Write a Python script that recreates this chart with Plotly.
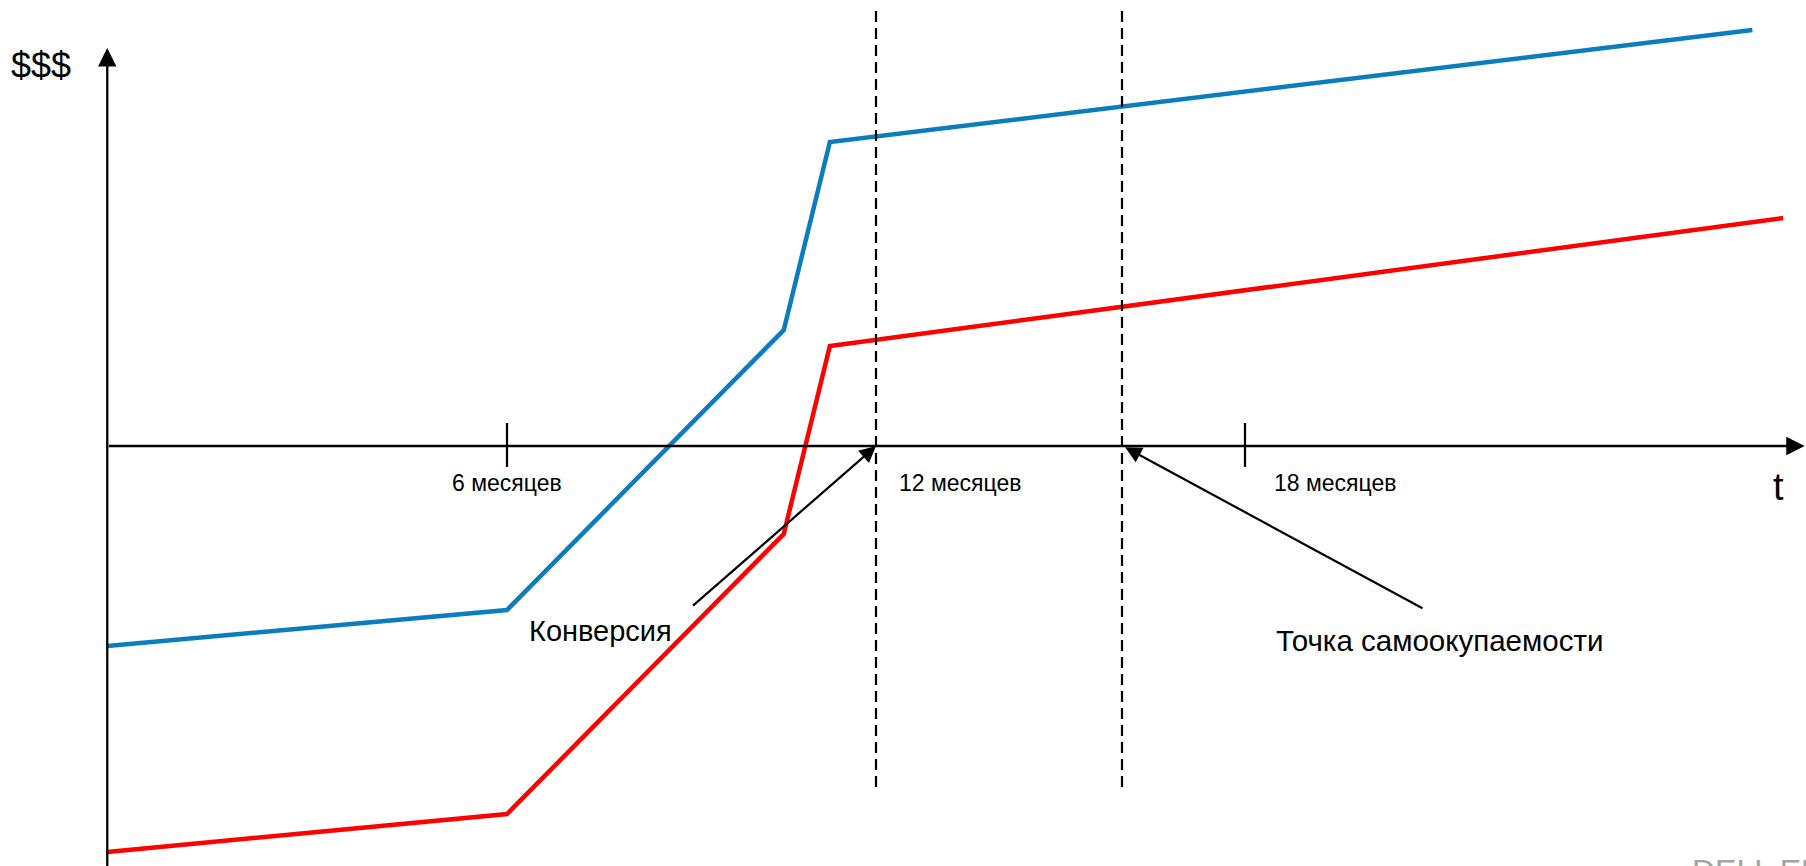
import plotly.graph_objects as go

# ---- data (x in months, y in arbitrary $ units) ----
blue_months = [-0.5, 6, 10.5, 11.25, 26.25]
blue_values = [-50, -41, 29, 76, 104]
red_months = [-0.5, 6, 10.5, 11.25, 26.75]
red_values = [-101.5, -92, -22, 25, 57]

tick_months = [6, 18]
tick_labels = ["6 месяцев", "12 месяцев", "18 месяцев"]
label_months = [6, 12, 18]
conversion_month = 12
payback_month = 16

FONT = "Liberation Sans, Arial, sans-serif"
BLUE = "#0b7dbd"
RED = "#ff0000"

X0, X1 = -2.244, 27.122
Y0, Y1 = -105, 111.5

fig = go.Figure()
fig.add_trace(go.Scatter(x=blue_months, y=blue_values, mode="lines",
                         line=dict(color=BLUE, width=4.5), hoverinfo="skip"))
fig.add_trace(go.Scatter(x=red_months, y=red_values, mode="lines",
                         line=dict(color=RED, width=4.5), hoverinfo="skip"))

shapes = []
# tick marks
for m in tick_months:
    shapes.append(dict(type="line", x0=m, x1=m, y0=-5.25, y1=5.75,
                       line=dict(color="black", width=2.2)))
# dashed verticals
for m in [conversion_month, payback_month]:
    shapes.append(dict(type="line", x0=m, x1=m, y0=-85.25, y1=109,
                       line=dict(color="black", width=2.2, dash="11px,6px")))

annotations = []
# axes with arrowheads
annotations.append(dict(x=-0.5, y=99.5, ax=-0.5, ay=Y0 - 2, xref="x", yref="y",
                        axref="x", ayref="y", text="", showarrow=True,
                        arrowhead=2, arrowsize=1.6, arrowwidth=2.3, arrowcolor="black"))
annotations.append(dict(x=27.1, y=0, ax=-0.5, ay=0, xref="x", yref="y",
                        axref="x", ayref="y", text="", showarrow=True,
                        arrowhead=2, arrowsize=1.6, arrowwidth=2.3, arrowcolor="black"))
# tick labels
annotations.append(dict(x=label_months[0], y=-9.25, text=tick_labels[0], showarrow=False,
                        xanchor="center", yanchor="middle",
                        font=dict(family=FONT, size=23, color="black")))
annotations.append(dict(x=label_months[1] + 0.34, y=-9.25, text=tick_labels[1], showarrow=False,
                        xanchor="left", yanchor="middle",
                        font=dict(family=FONT, size=23, color="black")))
annotations.append(dict(x=label_months[2] + 0.44, y=-9.25, text=tick_labels[2], showarrow=False,
                        xanchor="left", yanchor="middle",
                        font=dict(family=FONT, size=23, color="black")))
# callouts
annotations.append(dict(x=conversion_month, y=0, ax=9.0, ay=-40.25, xref="x", yref="y",
                        axref="x", ayref="y", text="", showarrow=True,
                        arrowhead=2, arrowsize=1.5, arrowwidth=2.2, arrowcolor="black"))
annotations.append(dict(x=6.33, y=-46.25, text="Конверсия", showarrow=False,
                        xanchor="left", yanchor="middle",
                        font=dict(family=FONT, size=29, color="black")))
annotations.append(dict(x=payback_month + 0.05, y=-0.3, ax=20.91, ay=-40.75, xref="x", yref="y",
                        axref="x", ayref="y", text="", showarrow=True,
                        arrowhead=2, arrowsize=1.5, arrowwidth=2.2, arrowcolor="black"))
annotations.append(dict(x=18.47, y=-48.5, text="Точка самоокупаемости", showarrow=False,
                        xanchor="left", yanchor="middle",
                        font=dict(family=FONT, size=29.5, color="black")))
# axis titles
annotations.append(dict(x=-1.577, y=95.25, text="$$$", showarrow=False,
                        xanchor="center", yanchor="middle",
                        font=dict(family=FONT, size=36, color="black")))
annotations.append(dict(x=26.67, y=-10.25, text="t", showarrow=False,
                        xanchor="center", yanchor="middle",
                        font=dict(family=FONT, size=38, color="black")))
# logo (cut off at the bottom, as in the reference)
annotations.append(dict(x=25.24, y=-101.3, text="DELL EMC", showarrow=False,
                        xanchor="left", yanchor="top",
                        font=dict(family=FONT, size=32, color="#a3a3a3")))

fig.update_layout(
    width=1806, height=866,
    margin=dict(l=0, r=0, t=0, b=0),
    paper_bgcolor="white", plot_bgcolor="white",
    showlegend=False,
    xaxis=dict(range=[X0, X1], visible=False, fixedrange=True),
    yaxis=dict(range=[Y0, Y1], visible=False, fixedrange=True),
    shapes=shapes,
    annotations=annotations,
)

fig.write_html("out.html", config={"displayModeBar": False})
